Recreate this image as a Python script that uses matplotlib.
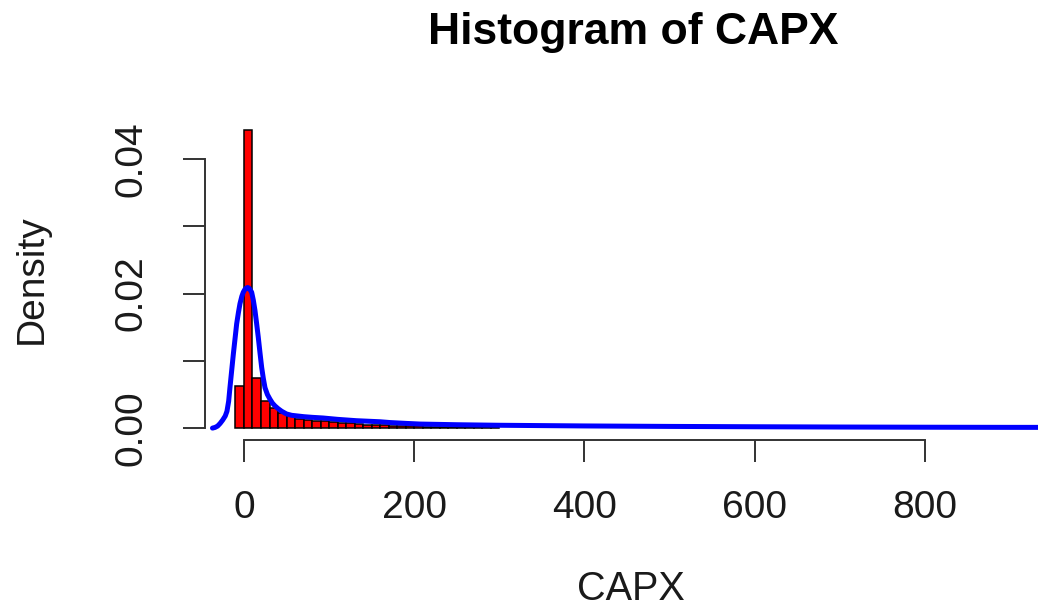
import matplotlib
matplotlib.use("Agg")
import matplotlib.pyplot as plt

# ---- data ----
bin_edges = [-10, 0, 10, 20, 30, 40, 50, 60, 70, 80, 90, 100, 110, 120, 130, 140,
             150, 160, 170, 180, 190, 200, 210, 220, 230, 240, 250, 260, 270, 280,
             290, 300]
bin_density = [0.0063, 0.0443, 0.0075, 0.0040, 0.0030, 0.0023, 0.0018, 0.0014,
               0.0012, 0.0011, 0.0010, 0.0009, 0.0008, 0.0007, 0.0006, 0.0005,
               0.00045, 0.0004, 0.00035, 0.0003, 0.00028, 0.00025, 0.00022,
               0.0002, 0.00018, 0.00016, 0.00015, 0.00014, 0.00013, 0.00012,
               0.00011]

kde_x = [-37, -34, -31, -28, -25, -22, -20, -18, -16.5, -14.5, -12.5, -10.5, -8.6,
         -6.5, -4.7, -2.5, -0.8, 1.0, 2.5, 4.3, 6.0, 7.5, 9.0, 11.0, 12.9, 14.8,
         16.8, 18.8, 20.8, 22.7, 24.7, 27.5, 30.5, 33.5, 36.4, 40, 44.3, 50, 56, 63,
         70, 80, 93, 110, 132, 160, 172, 190, 207, 250, 300, 400, 500, 600, 700,
         800, 900, 1000]
kde_y = [0.0, 0.0001, 0.0003, 0.0007, 0.0012, 0.0018, 0.0025, 0.0040, 0.0060,
         0.0085, 0.0110, 0.0133, 0.0155, 0.0172, 0.0185, 0.0196, 0.0202, 0.0206,
         0.0208, 0.0209, 0.0208, 0.0205, 0.0202, 0.0190, 0.0175, 0.0156, 0.0135,
         0.0112, 0.0090, 0.0074, 0.0060, 0.0050, 0.0043, 0.0037, 0.0033, 0.0029,
         0.0025, 0.0021, 0.0019, 0.0018, 0.0017, 0.0016, 0.0015, 0.0013, 0.0011,
         0.00094, 0.00082, 0.0007, 0.0006, 0.0005, 0.00042, 0.00032, 0.00025,
         0.0002, 0.00016, 0.00013, 0.00011, 0.0001]

x_ticks = [0, 200, 400, 600, 800]
y_ticks = [0.00, 0.01, 0.02, 0.03, 0.04]
y_tick_labels = ["0.00", "", "0.02", "", "0.04"]

title = "Histogram of CAPX"
x_label = "CAPX"
y_label = "Density"

# ---- figure ----
plt.rcParams['font.family'] = ['Liberation Sans', 'DejaVu Sans']
W, H = 1038, 609
fig = plt.figure(figsize=(W / 100, H / 100), dpi=100)
ax = fig.add_axes([205 / W, 169 / H, (1067 - 205) / W, (491 - 169) / H])

widths = [bin_edges[i + 1] - bin_edges[i] for i in range(len(bin_density))]
ax.bar(bin_edges[:-1], bin_density, width=widths, align='edge',
       color='#FF0000', edgecolor='black', linewidth=1.1)
ax.plot(kde_x, kde_y, color='#0000FF', linewidth=3.6,
        solid_capstyle='round', solid_joinstyle='round')

ax.set_xlim(-45.8, 967)
ax.set_ylim(-0.00177, 0.0461)

for s in ['top', 'right']:
    ax.spines[s].set_visible(False)
ax.spines['left'].set_bounds(0, 0.04)
ax.spines['bottom'].set_bounds(0, 800)
for s in ['left', 'bottom']:
    ax.spines[s].set_color('#333333')
    ax.spines[s].set_linewidth(1.4)

ax.set_xticks(x_ticks)
ax.set_xticklabels([str(v) for v in x_ticks])
ax.set_yticks(y_ticks)
ax.set_yticklabels(y_tick_labels, rotation=90, va='center')
ax.tick_params(axis='both', direction='out', length=15.8, width=1.4,
               color='#333333', labelsize=28, labelcolor='#1a1a1a')
ax.tick_params(axis='x', pad=20)
ax.tick_params(axis='y', pad=24)

fig.text(633 / W, (H - 44) / H, title, ha='center', va='baseline',
         fontsize=32, fontweight='bold', color='black')
fig.text(631 / W, 9 / H, x_label, ha='center', va='baseline', fontsize=28.5,
         color='#1a1a1a')
fig.text(32 / W, (H - 279) / H, y_label, ha='center', va='center',
         rotation=90, fontsize=28, color='#1a1a1a')

fig.savefig("out.png", dpi=100)
